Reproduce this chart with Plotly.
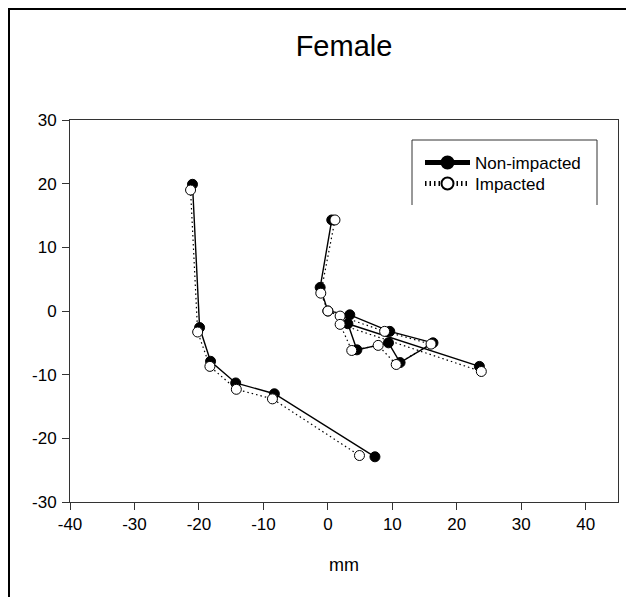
import plotly.graph_objects as go

# Non-impacted (filled circles): two trajectories separated by None
non_x = [-21.0, -19.9, -18.2, -14.3, -8.3, 7.3, None,
         0.6, -1.2, 0.0, 3.4, 9.6, 16.3, 11.2, 9.4, 4.5, 3.1, 23.5]
non_y = [19.9, -2.6, -7.9, -11.3, -13.0, -22.9, None,
         14.3, 3.7, 0.0, -0.6, -3.2, -5.0, -8.1, -5.0, -6.1, -2.0, -8.7]

# Impacted (open circles)
imp_x = [-21.3, -20.2, -18.3, -14.2, -8.6, 4.9, None,
         1.1, -1.1, 0.0, 1.9, 8.8, 16.0, 10.6, 7.8, 3.7, 1.9, 23.8]
imp_y = [19.0, -3.3, -8.7, -12.3, -13.8, -22.7, None,
         14.3, 2.8, 0.0, -0.8, -3.2, -5.2, -8.4, -5.4, -6.2, -2.1, -9.5]

title_text = "Female"
x_title = "mm"
x_ticks = [-40, -30, -20, -10, 0, 10, 20, 30, 40]
x_ticktext = ["-40", "-30", "-20", "-10", "0", "10", "20", "30", "40"]
y_ticks = [-30, -20, -10, 0, 10, 20, 30]
y_ticktext = ["-30", "-20", "-10", "0", "10", "20", "30"]

FONT = "Liberation Sans, Arial, sans-serif"

fig = go.Figure()
fig.add_trace(go.Scatter(
    x=non_x, y=non_y, name="Non-impacted", mode="lines+markers",
    line=dict(color="black", width=1.4),
    marker=dict(symbol="circle", size=10, color="black", line=dict(color="black", width=1)),
    connectgaps=False, legend="legend",
))
fig.add_trace(go.Scatter(
    x=imp_x, y=imp_y, name="Impacted", mode="lines+markers",
    line=dict(color="black", width=1.2, dash="1.5px,3px"),
    marker=dict(symbol="circle", size=10, color="white", line=dict(color="black", width=1)),
    connectgaps=False, legend="legend2",
))

# page body has an 8px margin, so figure coords = screen coords - 8
OFF = 8
L, R, T, B = 62, 16, 112, 95
W, H = 626, 589
pw, ph = W - L - R, H - T - B

def px_x(p):
    return (p - OFF - L) / pw

def px_y(p):
    return (H - B - (p - OFF)) / ph

shapes = [
    # outer figure border (top and left)
    dict(type="line", xref="paper", yref="paper", x0=px_x(8), x1=px_x(W + 20), y0=px_y(9), y1=px_y(9),
         line=dict(color="black", width=2)),
    dict(type="line", xref="paper", yref="paper", x0=px_x(9), x1=px_x(9), y0=px_y(9), y1=px_y(H + 20),
         line=dict(color="black", width=2)),
    # legend box (open at bottom)
    dict(type="line", xref="paper", yref="paper", x0=px_x(412), x1=px_x(597), y0=px_y(140), y1=px_y(140),
         line=dict(color="#333", width=1)),
    dict(type="line", xref="paper", yref="paper", x0=px_x(412), x1=px_x(412), y0=px_y(140), y1=px_y(205),
         line=dict(color="#333", width=1)),
    dict(type="line", xref="paper", yref="paper", x0=px_x(597), x1=px_x(597), y0=px_y(140), y1=px_y(205),
         line=dict(color="#333", width=1)),
]

leg_common = dict(xanchor="left", yanchor="top", bgcolor="rgba(0,0,0,0)", borderwidth=0,
                  font=dict(size=17, family=FONT, color="black"), itemwidth=45,
                  itemsizing="constant")

fig.update_layout(
    width=W, height=H,
    margin=dict(l=L, r=R, t=T, b=B),
    paper_bgcolor="white", plot_bgcolor="white",
    font=dict(family=FONT, color="black", size=17),
    title=dict(text=title_text, x=(344 - OFF) / W, xanchor="center", y=1 - (46 - OFF) / H, yanchor="middle",
               font=dict(size=29, family=FONT, color="black")),
    showlegend=True,
    legend=dict(x=px_x(420), y=px_y(145), **leg_common),
    legend2=dict(x=px_x(420), y=px_y(166), **leg_common),
    shapes=shapes,
    xaxis=dict(range=[-40, 45], tickvals=x_ticks, ticktext=x_ticktext, ticks="outside", ticklen=7, tickwidth=1,
               tickcolor="#333", showline=True, linecolor="#333", linewidth=1, mirror=True,
               showgrid=False, zeroline=False,
               title=dict(text=x_title, font=dict(size=18, family=FONT), standoff=24),
               tickfont=dict(size=17, family=FONT)),
    yaxis=dict(range=[-30, 30], tickvals=y_ticks, ticktext=y_ticktext, ticks="outside", ticklen=7, tickwidth=1,
               tickcolor="#333", showline=True, linecolor="#333", linewidth=1, mirror=True,
               showgrid=False, zeroline=False, ticklabelstandoff=2,
               tickfont=dict(size=17, family=FONT)),
)

fig.write_html("out.html")
